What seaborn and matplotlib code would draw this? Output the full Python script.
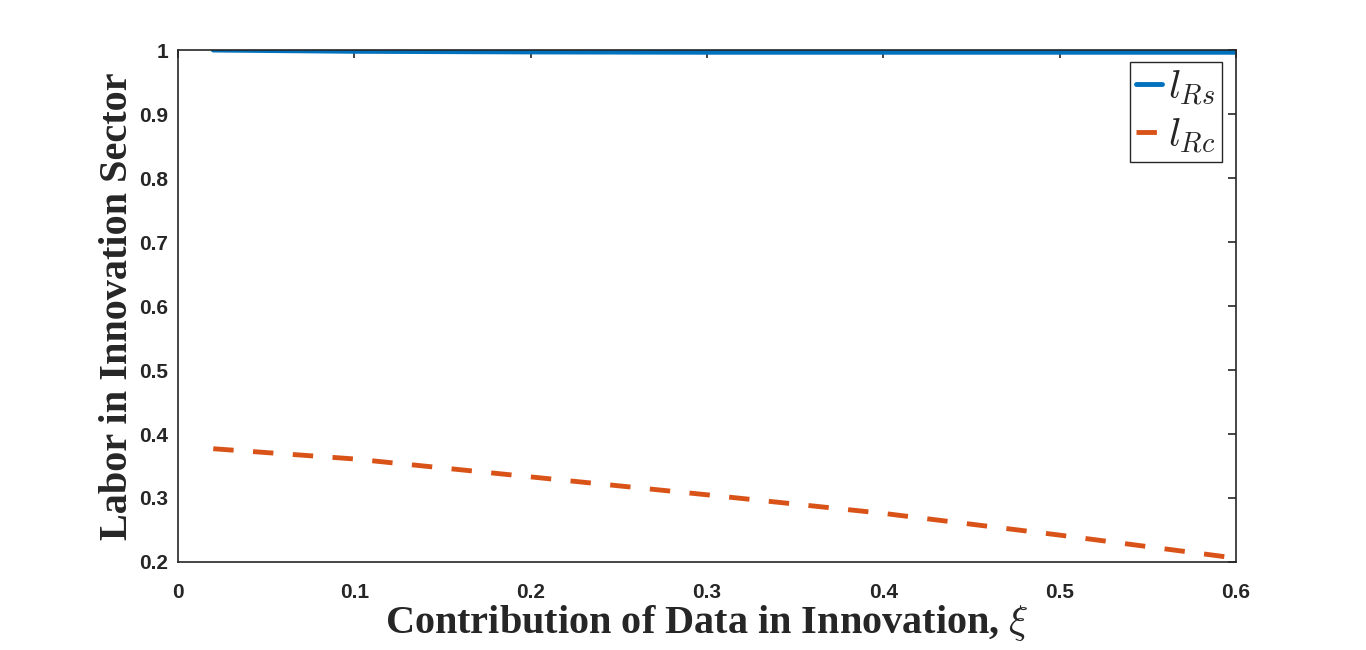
import numpy as np
import pandas as pd
import seaborn as sns
import matplotlib.pyplot as plt

# данные
xi = [0.02, 0.1, 0.2, 0.3, 0.4, 0.5, 0.6]
l_rs = [1.0, 0.998, 0.997, 0.9965, 0.9965, 0.9965, 0.9965]
l_rc = [0.377, 0.361, 0.333, 0.305, 0.276, 0.242, 0.206]

x_ticks = [0, 0.1, 0.2, 0.3, 0.4, 0.5, 0.6]
y_ticks = [0.2, 0.3, 0.4, 0.5, 0.6, 0.7, 0.8, 0.9, 1]

df = pd.DataFrame({"xi": xi, "l_rs": l_rs, "l_rc": l_rc})

sns.set_style("white")
plt.rcParams['font.family'] = ['Liberation Sans', 'DejaVu Sans']
plt.rcParams['mathtext.fontset'] = 'cm'

fig = plt.figure(figsize=(13.66, 6.5), dpi=100)
ax = fig.add_axes([0.1303, 0.1354, 0.7745, 0.7876])

sns.lineplot(data=df, x="xi", y="l_rs", ax=ax, color="#0072BD", linewidth=3.5,
             label=r"$l_{Rs}$")
sns.lineplot(data=df, x="xi", y="l_rc", ax=ax, color="#D95319", linewidth=3.5,
             label=r"$l_{Rc}$", dashes=False)
ax.lines[1].set_linestyle((0, (4.2, 4.0)))

ax.set_xlim(0, 0.6)
ax.set_ylim(0.2, 1)
ax.set_xticks(x_ticks)
ax.set_xticklabels([f"{t:g}" for t in x_ticks])
ax.set_yticks(y_ticks)
ax.set_yticklabels([f"{t:g}" for t in y_ticks])

ax.tick_params(direction='in', length=6, width=1.2, colors='#262626',
               top=True, right=True, labelsize=15)
ax.tick_params(axis='x', pad=15)
ax.tick_params(axis='y', pad=7)
for lab in ax.get_xticklabels() + ax.get_yticklabels():
    lab.set_fontweight('bold')
for s in ax.spines.values():
    s.set_color('#262626')
    s.set_linewidth(1.2)

ax.set_xlabel(r"Contribution of Data in Innovation, $\xi$", family='Liberation Serif',
              fontsize=29, fontweight='bold', color='#262626', labelpad=1)
ax.set_ylabel("Labor in Innovation Sector", family='Liberation Serif',
              fontsize=29, fontweight='bold', color='#262626', labelpad=2)

leg = ax.legend(loc='upper right', bbox_to_anchor=(0.9868, 0.9766), borderaxespad=0,
                fontsize=29, handlelength=0.65, handletextpad=0.15,
                borderpad=0.15, labelspacing=0.2, fancybox=False, framealpha=1)
leg.get_frame().set_edgecolor('#262626')
leg.get_frame().set_linewidth(1.0)

fig.savefig("out.png", dpi=100)
